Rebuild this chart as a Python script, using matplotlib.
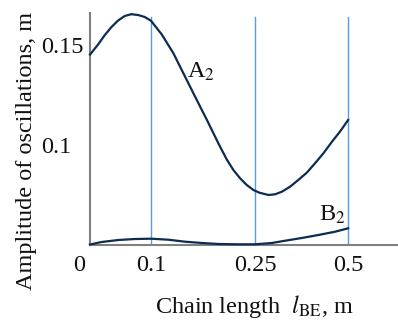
import numpy as np
import matplotlib
matplotlib.use("Agg")
import matplotlib.pyplot as plt
import matplotlib.transforms as mtransforms

plt.rcParams['font.family'] = ['Liberation Serif', 'DejaVu Serif']
plt.rcParams['mathtext.fontset'] = 'stix'

# ---- data ----
a2_x = [0.0, 0.0131, 0.0241, 0.0349, 0.0459, 0.0569, 0.0677, 0.0787, 0.0897, 0.1,
        0.1154, 0.1322, 0.1418, 0.1515, 0.161, 0.1731, 0.1803, 0.1899, 0.1995, 0.2092,
        0.2187, 0.2284, 0.238, 0.2476, 0.2616, 0.286, 0.3038, 0.322, 0.3441, 0.366,
        0.3889, 0.411, 0.4336, 0.456, 0.4785, 0.5]
a2_y = [0.1452, 0.1502, 0.1549, 0.1589, 0.1622, 0.1645, 0.1654, 0.165, 0.164, 0.1621,
        0.1553, 0.1459, 0.1392, 0.1325, 0.1259, 0.1176, 0.1127, 0.1059, 0.0983, 0.0855,
        0.075, 0.0667, 0.060, 0.055, 0.0523, 0.050, 0.0507, 0.0533, 0.0583, 0.065,
        0.0723, 0.0817, 0.0917, 0.1015, 0.1068, 0.1125]
b2_x = [0.0, 0.0191, 0.0464, 0.0738, 0.1, 0.125, 0.149, 0.1736, 0.1976, 0.2226,
        0.25, 0.2949, 0.331, 0.3755, 0.420, 0.4651, 0.5]
b2_y = [0.0005, 0.003, 0.005, 0.006, 0.0063, 0.0053, 0.0033, 0.002, 0.001, 0.0007,
        0.0007, 0.002, 0.0043, 0.007, 0.010, 0.0133, 0.0167]
x_ticks = [0, 0.1, 0.25, 0.5]
x_ticklabels = ['0', '0.1', '0.25', '0.5']
y_ticks = [0.1, 0.15]
y_ticklabels = ['0.1', '0.15']
vlines_x = [0.1, 0.25, 0.5]

# piecewise axis scales (non-uniform spacing of the original)
X_SRC, X_DST = [0, 0.1, 0.25, 0.5], [0, 61, 165, 258]
Y_SRC, Y_DST = [0, 0.1, 0.15], [0, 100, 200]


def piecewise(v, src, dst):
    v = np.asarray(v, dtype=float)
    out = np.interp(v, src, dst)
    s0 = (dst[1] - dst[0]) / (src[1] - src[0])
    s1 = (dst[-1] - dst[-2]) / (src[-1] - src[-2])
    out = np.where(v < src[0], dst[0] + (v - src[0]) * s0, out)
    out = np.where(v > src[-1], dst[-1] + (v - src[-1]) * s1, out)
    return out


fig = plt.figure(figsize=(3.98, 3.24), dpi=100)
W, H = 398, 324
ax = fig.add_axes([90 / W, 1 - 245 / H, (398 - 90) / W, (245 - 13) / H])

ax.set_xscale('function', functions=(lambda v: piecewise(v, X_SRC, X_DST),
                                     lambda v: piecewise(v, X_DST, X_SRC)))
ax.set_yscale('function', functions=(lambda v: piecewise(v, Y_SRC, Y_DST),
                                     lambda v: piecewise(v, Y_DST, Y_SRC)))
ax.set_xlim(0, 0.634)
ax.set_ylim(0, 0.166)

vcol = '#5b9bd5'
for xv in vlines_x:
    ax.plot([xv, xv], [0, 0.164], color=vcol, lw=1.0, zorder=1)

lc = '#0c2c52'
ax.plot(a2_x, a2_y, color=lc, lw=1.6, clip_on=False, zorder=3,
        solid_joinstyle='round')
ax.plot(b2_x, b2_y, color=lc, lw=1.6, clip_on=False, zorder=3,
        solid_joinstyle='round')

ax.text(0.152, 0.1365, r'A$_2$', fontsize=17.5, color='#111111', ha='left', va='center')
ax.text(0.423, 0.030, r'B$_2$', fontsize=17.5, color='#111111', ha='left', va='center')

for s in ['top', 'right']:
    ax.spines[s].set_visible(False)
for s in ['left', 'bottom']:
    ax.spines[s].set_color('#808080')
    ax.spines[s].set_linewidth(1.5)

ax.set_xticks(x_ticks)
ax.set_xticklabels(x_ticklabels, fontsize=17.5)
ax.set_yticks(y_ticks)
ax.set_yticklabels(y_ticklabels, fontsize=17.5)
ax.minorticks_off()
ax.tick_params(axis='both', length=0, colors='#111111')
ax.tick_params(axis='x', pad=7)
ax.tick_params(axis='y', pad=35)
for lab in ax.get_yticklabels():
    lab.set_ha('left')
xl = ax.get_xticklabels()
xl[0].set_transform(xl[0].get_transform() +
                    mtransforms.ScaledTranslation(-11 / 100, 0, fig.dpi_scale_trans))

fig.text(254 / W, 1 - 306 / H, r'Chain length  $\mathit{l}_{\mathrm{BE}}$, m',
         fontsize=17.5, ha='center', va='center', color='#111111')
fig.text(27 / W, 1 - 151 / H, 'Amplitude of oscillations, m', fontsize=17.5,
         rotation=90, ha='center', va='center', color='#111111')

fig.savefig('out.png', dpi=100)
